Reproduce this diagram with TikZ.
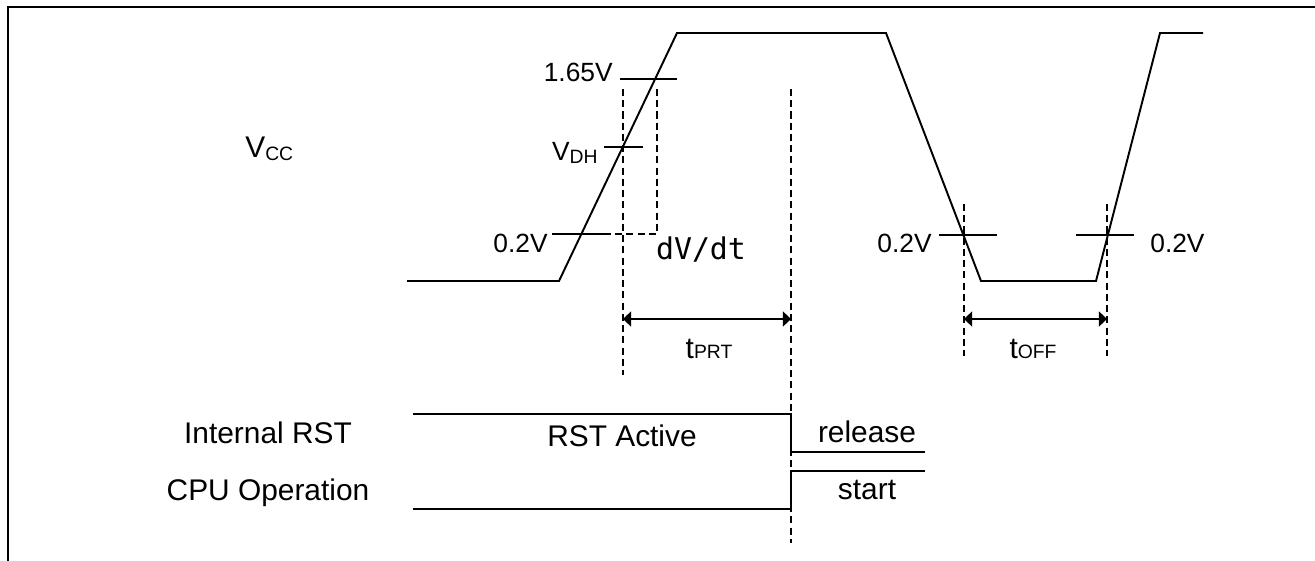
\documentclass[tikz,border=0pt]{standalone}
\usepackage{fontspec}
\setmainfont{Liberation Sans}
\newfontfamily\monofont{DejaVu Sans Mono}
\usetikzlibrary{arrows.meta}

\newcommand{\bigsz}{\fontsize{17}{20}\selectfont}
\newcommand{\volsz}{\fontsize{15}{18}\selectfont}
\newcommand{\subsz}{\fontsize{11}{13}\selectfont}
\newcommand{\lowsub}[1]{\raisebox{-2pt}{\subsz #1}}

\begin{document}
\begin{tikzpicture}[x=0.02cm, y=-0.02cm,
  wave/.style={line width=1.1pt},
  guide/.style={line width=1pt, dash pattern=on 4pt off 2.4pt},
  span/.style={line width=1.1pt, {Triangle[length=4.6pt,width=8.5pt]}-{Triangle[length=4.6pt,width=8.5pt]}},
  lbl/.style={inner sep=0pt, font=\bigsz},
  vlbl/.style={inner sep=0pt, font=\volsz}]
\useasboundingbox (0,0) rectangle (1315,561);

% Frame
\draw[line width=1.7pt] (1315,7) -- (8,7) -- (8,561);

% Vcc waveform
\coordinate (v0) at (407,281);
\coordinate (v1) at (559,281);
\coordinate (v2) at (677,33);
\coordinate (v3) at (886,33);
\coordinate (v4) at (981,281);
\coordinate (v5) at (1096,281);
\coordinate (v6) at (1160,33);
\coordinate (v7) at (1203,33);
\draw[wave] (v0) -- (v1) -- (v2) -- (v3) -- (v4) -- (v5) -- (v6) -- (v7);

% Level ticks
\draw[wave] (620,79) -- (677,79);
\draw[wave] (604,147) -- (643,147);
\draw[wave] (552,234) -- (608,234);
\draw[wave] (939,235) -- (997,235);
\draw[wave] (1076,235) -- (1134,235);

% Dashed guides
\coordinate (gA) at (623,89);
\coordinate (gB) at (657,89);
\coordinate (gC) at (791,89);
\coordinate (gD) at (964,204);
\coordinate (gE) at (1107,204);
\draw[guide] (gA) -- (623,375);
\draw[guide] (gB) -- (657,234) -- (608,234);
\draw[guide] (gC) -- (791,543);
\draw[guide] (gD) -- (964,356);
\draw[guide] (gE) -- (1107,356);

% Timing spans
\coordinate (prtL) at (623,319);
\coordinate (prtR) at (791,319);
\coordinate (offL) at (964,319);
\coordinate (offR) at (1107,319);
\draw[span] (prtL) -- (prtR);
\draw[span] (offL) -- (offR);

% Reset and CPU lines
\draw[wave] (413,414) -- (791,414) -- (791,452) -- (925,452);
\draw[wave] (413,509) -- (791,509) -- (791,471) -- (925,471);

% Labels
\node[lbl, anchor=base west] (vcc) at (245,157) {V\lowsub{CC}};
\node[vlbl, anchor=base east] (v165) at (613,81) {1.65V};
\node[vlbl, anchor=base east] (vdh) at (598,160) {V\lowsub{DH}};
\node[vlbl, anchor=base east] (v02a) at (548,252) {0.2V};
\node[vlbl, anchor=base east] (v02b) at (932,252) {0.2V};
\node[vlbl, anchor=base west] (v02c) at (1150,252) {0.2V};
\node[lbl, anchor=base, font=\bigsz\monofont] (slope) at (701,259) {dV/dt};
\node[lbl, anchor=base] (tprt) at (709,358) {t{\subsz PRT}};
\node[lbl, anchor=base] (toff) at (1033,358) {t{\subsz OFF}};
\node[lbl, anchor=base] (irst) at (268,443) {Internal RST};
\node[lbl, anchor=base] (cpu) at (268,500) {CPU Operation};
\node[lbl, anchor=base] (act) at (622,446) {RST Active};
\node[lbl, anchor=base] (rel) at (867,442) {release};
\node[lbl, anchor=base] (strt) at (867,499) {start};
\end{tikzpicture}
\end{document}
